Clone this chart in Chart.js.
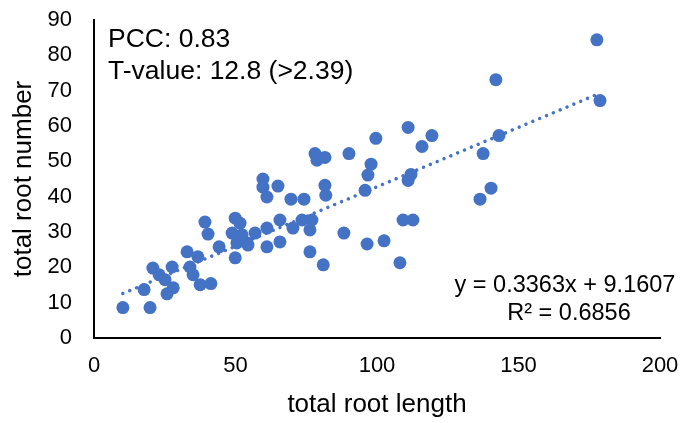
<!DOCTYPE html>
<html>
<head>
<meta charset="utf-8">
<script src="https://cdn.jsdelivr.net/npm/chart.js@4"></script>
<style>
html,body{margin:0;padding:0;background:#fff;}
#wrap{width:695px;height:423px;position:relative;}
</style>
</head>
<body>
<div id="wrap"><canvas id="c" width="695" height="423"></canvas></div>
<script>
// total root length (x) and total root number (y)
const rootLength = [10.2,19.8,17.7,20.8,23.0,25.1,27.6,28.0,25.8,32.9,36.7,33.9,35.0,37.5,41.3,39.2,40.3,44.2,49.9,48.8,51.6,50.5,49.9,54.1,52.3,56.9,61.1,65.7,70.3,73.5,77.0,76.3,54.4,61.1,65.7,76.3,81.0,59.7,59.7,65.0,61.1,69.6,74.2,81.6,81.9,78.1,81.6,78.8,90.1,95.8,88.3,96.5,177.7,142.0,111.0,99.6,119.4,115.9,97.9,96.8,112.0,111.0,143.1,137.5,178.8,140.3,136.4,109.2,112.7,102.5,108.1];
const rootNumber = [8.6,8.6,13.7,19.8,17.9,16.5,20.1,14.2,12.5,24.4,23.0,20.1,17.9,15.1,15.4,32.8,29.4,25.8,33.9,29.7,32.5,26.9,22.7,26.9,29.2,29.7,31.1,33.4,31.1,33.4,33.4,30.6,26.3,25.8,27.2,24.4,20.7,45.0,42.7,43.0,39.9,39.3,39.3,43.2,40.4,52.2,51.1,50.3,52.2,41.8,29.7,26.6,84.4,73.1,59.6,56.5,57.3,54.2,49.2,46.1,46.3,44.6,57.3,52.2,67.2,42.4,39.3,33.4,33.4,27.5,21.3];
// linear trendline end points (x, y)
const trendX = [10.2, 178.8];
const trendY = [12.6, 69.3];
// tick settings
const xTicks = [0, 50, 100, 150, 200];
const yTicks = [0, 10, 20, 30, 40, 50, 60, 70, 80, 90];
// annotation texts
const statLines = ['PCC: 0.83', 'T-value: 12.8 (>2.39)'];
const eqLines = ['y = 0.3363x + 9.1607', 'R\u00B2 = 0.6856'];

const blue = '#4472C4';
const FONT = '"Liberation Sans", Arial, sans-serif';

const annot = {
  id: 'annot',
  afterDraw(chart) {
    const ctx = chart.ctx;
    ctx.save();
    ctx.fillStyle = '#000';
    ctx.textBaseline = 'alphabetic';
    ctx.font = '26.5px ' + FONT;
    ctx.textAlign = 'left';
    ctx.fillText(statLines[0], 108, 47);
    ctx.fillText(statLines[1], 108, 79);
    ctx.font = '23.5px ' + FONT;
    ctx.textAlign = 'center';
    ctx.fillText(eqLines[0], 565, 292);
    ctx.fillText(eqLines[1], 569, 320);
    ctx.restore();
  }
};

function zeroPad(s) { s.paddingTop = 0; s.paddingBottom = 0; s.paddingLeft = 0; s.paddingRight = 0; }

new Chart(document.getElementById('c'), {
  type: 'scatter',
  data: {
    datasets: [
      {
        type: 'line',
        order: 0,
        data: trendX.map((x, i) => ({x: x, y: trendY[i]})),
        borderColor: blue,
        borderWidth: 3.5,
        borderDash: [0.01, 7.4],
        borderCapStyle: 'round',
        pointRadius: 0,
        fill: false
      },
      {
        order: 1,
        data: rootLength.map((x, i) => ({x: x, y: rootNumber[i]})),
        backgroundColor: blue,
        borderWidth: 0,
        pointRadius: 6.5,
        pointHoverRadius: 6.5
      }
    ]
  },
  options: {
    responsive: false,
    animation: false,
    events: [],
    layout: {padding: {top: 20, right: 35, bottom: 0, left: 0}},
    plugins: {legend: {display: false}, tooltip: {enabled: false}},
    scales: {
      x: {
        type: 'linear',
        min: 0, max: 200,
        afterBuildTicks: s => { s.ticks = xTicks.map(v => ({value: v})); },
        afterFit: s => { s.height = 85; zeroPad(s); },
        grid: {display: false, drawTicks: false},
        border: {display: true, color: '#000', width: 2},
        ticks: {color: '#000', font: {family: FONT, size: 22}, padding: 15, maxRotation: 0},
        title: {display: true, text: 'total root length', color: '#000', font: {family: FONT, size: 26}, padding: {top: 0, bottom: 3}}
      },
      y: {
        type: 'linear',
        min: 0, max: 90,
        afterBuildTicks: s => { s.ticks = yTicks.map(v => ({value: v})); },
        afterFit: s => { s.width = 94; zeroPad(s); },
        grid: {display: false, drawTicks: false},
        border: {display: true, color: '#000', width: 2},
        ticks: {color: '#000', font: {family: FONT, size: 22}, padding: 22},
        title: {display: true, text: 'total root number', color: '#000', font: {family: FONT, size: 26}, padding: {top: 8, bottom: 0}}
      }
    }
  },
  plugins: [annot]
});
</script>
</body>
</html>
